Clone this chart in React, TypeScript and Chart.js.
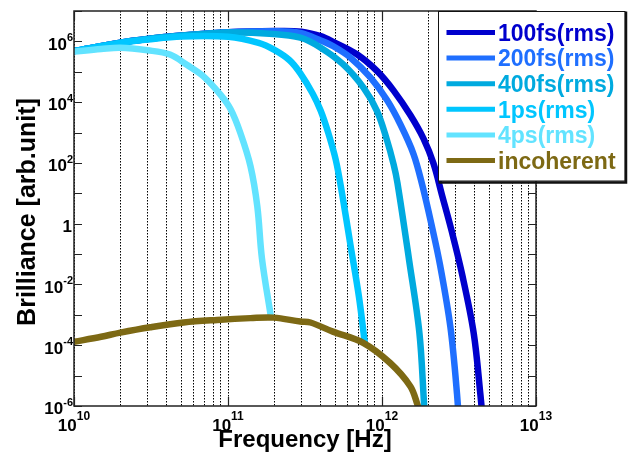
import React, { useEffect, useRef } from 'react';
import { Chart, registerables } from 'chart.js';

Chart.register(...registerables);

// ---------- data ----------
const seriesLabels = ['100fs(rms)', '200fs(rms)', '400fs(rms)', '1ps(rms)', '4ps(rms)', 'incoherent'];
const seriesColors = ['#0000cd', '#1f6fff', '#00aadf', '#00c6ff', '#62e3ff', '#7d6914'];

const freq100fs = [1e10, 2e10, 3e10, 5e10, 1e11, 2e11, 3e11, 4e11, 4.85e11, 6.9e11, 9.3e11, 1.19e12, 1.53e12, 1.86e12, 2.16e12, 2.45e12, 2.82e12, 3.31e12, 3.94e12, 4.35e12, 4.62e12];
const val100fs = [4.8e5, 9.1e5, 1.2e6, 1.55e6, 2.0e6, 2.19e6, 2.09e6, 1.48e6, 9.5e5, 3.7e5, 1.05e5, 2.4e4, 3.7e3, 6.3e2, 95, 8.9, 0.63, 0.022, 2.5e-4, 2.5e-6, 1e-7];

const freq200fs = [1e10, 2e10, 3e10, 5e10, 1e11, 2e11, 2.95e11, 4e11, 4.83e11, 6.22e11, 8.4e11, 1.08e12, 1.32e12, 1.6e12, 1.82e12, 2.09e12, 2.39e12, 2.78e12, 3.07e12, 3.2e12];
const val200fs = [4.8e5, 9.1e5, 1.2e6, 1.55e6, 2.0e6, 2.15e6, 1.9e6, 1.07e6, 6.9e5, 2.95e5, 6.5e4, 1.15e4, 1.8e3, 2.0e2, 20, 1, 0.04, 4e-4, 2.5e-6, 1e-7];

const freq400fs = [1e10, 2e10, 3e10, 5e10, 1e11, 1.86e11, 2.95e11, 4e11, 5.6e11, 7.6e11, 9.3e11, 1.07e12, 1.19e12, 1.26e12, 1.5e12, 1.75e12, 1.88e12, 1.95e12];
const val400fs = [4.8e5, 9.1e5, 1.2e6, 1.55e6, 1.95e6, 1.78e6, 1.32e6, 6.2e5, 1.74e5, 2.95e4, 5.0e3, 6.3e2, 89, 22, 0.063, 2.5e-4, 1e-6, 1e-7];

const freq1ps = [1e10, 2e10, 3e10, 5e10, 1e11, 1.58e11, 2e11, 2.51e11, 2.95e11, 3.55e11, 4e11, 4.47e11, 5.01e11, 5.5e11, 6.24e11, 7.08e11, 7.76e11];
const val1ps = [4.8e5, 8.9e5, 1.15e6, 1.45e6, 1.41e6, 8.9e5, 5.25e5, 2.4e5, 8.9e4, 1.9e4, 5.2e3, 1.0e3, 1.26e2, 10, 0.2, 4e-3, 1.02e-4];

const freq4ps = [1e10, 1.5e10, 2e10, 3e10, 4.2e10, 5.4e10, 6.9e10, 8.9e10, 1.04e11, 1.2e11, 1.4e11, 1.55e11, 1.66e11, 1.9e11];
const val4ps = [4.6e5, 5.6e5, 6.2e5, 5.1e5, 3.7e5, 1.7e5, 7.2e4, 1.8e4, 5.8e3, 1.0e3, 78, 3.7, 7.4e-2, 8.5e-4];

const freqInc = [1e10, 1.5e10, 2e10, 3.13e10, 5.15e10, 8.5e10, 1.4e11, 1.98e11, 2.95e11, 3.43e11, 4.8e11, 7.55e11, 1.13e12, 1.53e12, 1.7e12, 2.0e12];
const valInc = [1.3e-4, 1.9e-4, 2.6e-4, 3.9e-4, 5.6e-4, 6.8e-4, 7.8e-4, 8.1e-4, 6.0e-4, 5.6e-4, 2.8e-4, 1.2e-4, 2.6e-5, 4.4e-6, 1.1e-6, 1e-7];

const seriesFreqs = [freq100fs, freq200fs, freq400fs, freq1ps, freq4ps, freqInc];
const seriesVals = [val100fs, val200fs, val400fs, val1ps, val4ps, valInc];

// ---------- axes ----------
const xMin = 1e10;
const xMax = 1e13;
const yMin = 1e-6;
const yMax = 1e7;
const xDecades = [1e10, 1e11, 1e12];
const xMantissas = [1, 2, 3, 4, 5, 6, 7, 8, 9];
const xMajorTicks = [1e10, 1e11, 1e12, 1e13];
const xTickExponents = ['10', '11', '12', '13'];
const yTickValues = [1e-6, 1e-5, 1e-4, 1e-3, 1e-2, 1e-1, 1, 1e1, 1e2, 1e3, 1e4, 1e5, 1e6, 1e7];
const yLabelValues = [1e6, 1e4, 1e2, 1, 1e-2, 1e-4, 1e-6];
const yLabelExponents = ['6', '4', '2', '', '-2', '-4', '-6'];
const xTitle = 'Frequency [Hz]';
const yTitle = 'Brilliance [arb.unit]';

const FONT = '"Liberation Sans", Arial, Helvetica, sans-serif';

const decorPlugin = {
  id: 'decor',
  afterDatasetsDraw(chart: any) {
    const { ctx, chartArea: a, scales } = chart;
    const xs = scales.x;
    const ys = scales.y;
    ctx.save();

    // axes box
    ctx.strokeStyle = '#222';
    ctx.lineWidth = 1.5;
    ctx.setLineDash([]);
    ctx.strokeRect(a.left, a.top, a.right - a.left, a.bottom - a.top);

    // y ticks (left and right, inward)
    ctx.lineWidth = 1.2;
    ctx.beginPath();
    for (const v of yTickValues) {
      const py = Math.round(ys.getPixelForValue(v)) + 0.5;
      ctx.moveTo(a.left, py);
      ctx.lineTo(a.left + 8, py);
      ctx.moveTo(a.right, py);
      ctx.lineTo(a.right - 8, py);
    }
    // x major ticks (bottom and top, inward)
    for (const v of xMajorTicks) {
      const px = Math.round(xs.getPixelForValue(v)) + 0.5;
      ctx.moveTo(px, a.bottom);
      ctx.lineTo(px, a.bottom - 9);
      ctx.moveTo(px, a.top);
      ctx.lineTo(px, a.top + 9);
    }
    ctx.stroke();

    // y tick labels
    ctx.fillStyle = '#000';
    ctx.textBaseline = 'alphabetic';
    yLabelValues.forEach((v, i) => {
      const py = ys.getPixelForValue(v);
      const exp = yLabelExponents[i];
      const right = a.left - 1;
      if (exp === '') {
        ctx.font = `bold 17px ${FONT}`;
        ctx.textAlign = 'right';
        ctx.fillText('1', right - 1, py + 8.3);
        return;
      }
      ctx.font = `bold 11px ${FONT}`;
      const supW = ctx.measureText(exp).width;
      ctx.textAlign = 'left';
      ctx.fillText(exp, right - supW, py);
      ctx.font = `bold 17px ${FONT}`;
      ctx.textAlign = 'right';
      ctx.fillText('10', right - supW, py + 8.3);
    });

    // x tick labels
    xMajorTicks.forEach((v, i) => {
      const px = xs.getPixelForValue(v);
      const exp = xTickExponents[i];
      ctx.font = `bold 17px ${FONT}`;
      const baseW = ctx.measureText('10').width;
      ctx.font = `bold 12px ${FONT}`;
      const supW = ctx.measureText(exp).width;
      const start = px - (baseW + supW) / 2;
      ctx.textAlign = 'left';
      ctx.font = `bold 17px ${FONT}`;
      ctx.fillText('10', start, a.bottom + 24.6);
      ctx.font = `bold 12px ${FONT}`;
      ctx.fillText(exp, start + baseW, a.bottom + 14.3);
    });

    // axis titles
    ctx.font = `bold 24px ${FONT}`;
    ctx.textAlign = 'center';
    ctx.fillText(xTitle, (a.left + a.right) / 2, 447);
    ctx.save();
    ctx.font = `bold 25px ${FONT}`;
    ctx.translate(35, 212);
    ctx.rotate(-Math.PI / 2);
    ctx.fillText(yTitle, 0, 0);
    ctx.restore();

    // legend box
    const lx = 438.5, ly = 11.5, lr = 625, lb = 181;
    ctx.fillStyle = '#fff';
    ctx.fillRect(lx, ly, lr - lx, lb - ly);
    ctx.strokeStyle = '#111';
    ctx.lineWidth = 1;
    ctx.strokeRect(lx, ly, lr - lx, lb - ly);
    ctx.lineWidth = 2.5;
    ctx.beginPath();
    ctx.moveTo(lr + 1, ly);
    ctx.lineTo(lr + 1, lb + 1.5);
    ctx.lineTo(lx, lb + 1.5);
    ctx.stroke();

    ctx.font = `bold 23px ${FONT}`;
    ctx.textAlign = 'left';
    chart.data.datasets.forEach((ds: any, i: number) => {
      const cy = 32.5 + i * 25.6;
      ctx.strokeStyle = ds.borderColor;
      ctx.lineWidth = 5;
      ctx.beginPath();
      ctx.moveTo(446.5, cy);
      ctx.lineTo(495, cy);
      ctx.stroke();
      ctx.fillStyle = ds.borderColor;
      ctx.fillText(ds.label, 498, cy + 8.2);
    });

    ctx.restore();
  },
};

export default function App() {
  const ref = useRef<HTMLCanvasElement>(null);

  useEffect(() => {
    const canvas = ref.current;
    if (!canvas) return;
    const datasets = seriesLabels.map((label, i) => ({
      label,
      data: seriesFreqs[i].map((f, j) => ({ x: f, y: seriesVals[i][j] })),
      borderColor: seriesColors[i],
      backgroundColor: seriesColors[i],
      borderWidth: 6.5,
      pointRadius: 0,
      fill: false,
      tension: 0.35,
      borderJoinStyle: 'round' as const,
      clip: 0,
      order: seriesLabels.length - 1 - i,
    }));

    const chart = new Chart(canvas, {
      type: 'line',
      data: { datasets },
      options: {
        responsive: false,
        animation: false,
        devicePixelRatio: 1,
        layout: { padding: { left: 74, top: 11, right: 96, bottom: 50 } },
        plugins: { legend: { display: false }, tooltip: { enabled: false }, title: { display: false } },
        events: [],
        scales: {
          x: {
            type: 'logarithmic',
            min: xMin,
            max: xMax,
            afterBuildTicks: (scale: any) => {
              const t: any[] = [];
              xDecades.forEach((d) => xMantissas.forEach((m) => t.push({ value: m * d })));
              t.push({ value: xMax });
              scale.ticks = t;
            },
            ticks: { display: false },
            grid: { display: true, color: '#000', lineWidth: 1, drawTicks: false, drawOnChartArea: true },
            border: { display: false, dash: [1.5, 1.5] },
          },
          y: {
            type: 'logarithmic',
            min: yMin,
            max: yMax,
            afterBuildTicks: (scale: any) => {
              scale.ticks = yTickValues.map((v) => ({ value: v }));
            },
            ticks: { display: false },
            grid: { display: false, drawTicks: false },
            border: { display: false },
          },
        },
      },
      plugins: [decorPlugin],
    } as any);

    return () => chart.destroy();
  }, []);

  return (
    <div style={{ position: 'fixed', left: 0, top: 0, width: 632, height: 456, background: '#fff' }}>
      <canvas ref={ref} width={632} height={456} style={{ display: 'block', width: 632, height: 456 }} />
    </div>
  );
}
